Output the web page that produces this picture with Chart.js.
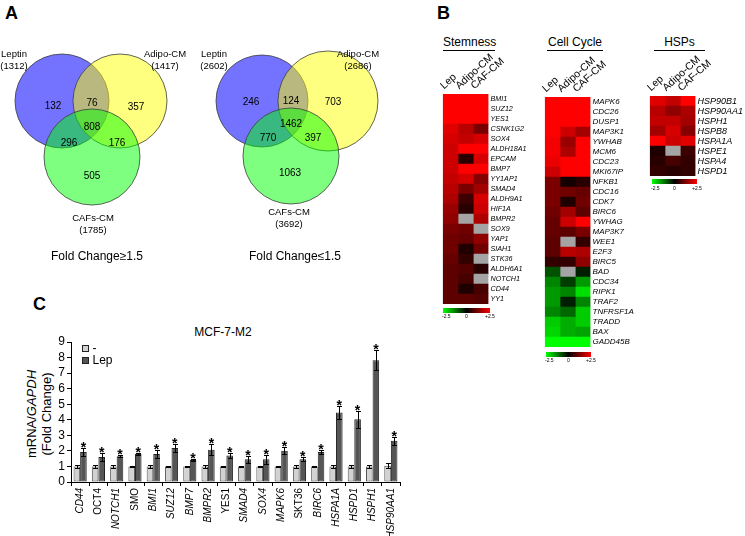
<!DOCTYPE html>
<html>
<head>
<meta charset="utf-8">
<script src="https://cdn.jsdelivr.net/npm/chart.js@4.4.1/dist/chart.umd.min.js"></script>
<style>
  body { margin: 0; background: #fff; font-family: Arial, "Liberation Sans", sans-serif; }
  #page { position: relative; width: 745px; height: 536px; overflow: hidden; background: #fff; }
  .abs { position: absolute; }
  .panel { font-weight: bold; font-size: 18px; }
  .head { font-size: 12px; text-align: center; border-bottom: 1px solid #000; line-height: 13px; padding-bottom: 1px; white-space: nowrap; }
  .cbar { height: 5px; background: linear-gradient(to right, #00ff00, #000 50%, #ff0000); }
  .ctxt { font-size: 5px; line-height: 5px; }
  .cap { font-size: 12px; text-align: center; }
</style>
</head>
<body>
<div id="page">
  <div class="abs panel" style="left:5px;top:3px">A</div>
  <div class="abs panel" style="left:437px;top:3px">B</div>
  <div class="abs panel" style="left:33px;top:294px">C</div>

  <canvas id="vennUp" class="abs" width="190" height="210" style="left:0;top:40px"></canvas>
  <canvas id="vennDown" class="abs" width="195" height="210" style="left:190px;top:40px"></canvas>
  <div class="abs cap" style="left:37px;top:249px;width:120px">Fold Change≥1.5</div>
  <div class="abs cap" style="left:235px;top:249px;width:120px">Fold Change≤1.5</div>

  <div class="abs head" style="left:443px;top:36px;width:52px">Stemness</div>
  <div class="abs head" style="left:547px;top:36px;width:56px">Cell Cycle</div>
  <div class="abs head" style="left:654px;top:36px;width:51px">HSPs</div>

  <canvas id="heatStem" class="abs" width="109" height="268" style="left:440px;top:44px"></canvas>
  <canvas id="heatCycle" class="abs" width="119" height="308" style="left:542px;top:47px"></canvas>
  <canvas id="heatHsp" class="abs" width="98" height="138" style="left:647px;top:46px"></canvas>

  <div class="abs cbar" style="left:443px;top:308px;width:47px"></div>
  <div class="abs ctxt" style="left:442px;top:314px">-2.5</div>
  <div class="abs ctxt" style="left:465px;top:314px">0</div>
  <div class="abs ctxt" style="left:485px;top:314px">+2.5</div>

  <div class="abs cbar" style="left:546px;top:352px;width:45px"></div>
  <div class="abs ctxt" style="left:545px;top:358px">-2.5</div>
  <div class="abs ctxt" style="left:567px;top:358px">0</div>
  <div class="abs ctxt" style="left:586px;top:358px">+2.5</div>

  <div class="abs cbar" style="left:652px;top:179px;width:45px"></div>
  <div class="abs ctxt" style="left:651px;top:186px">-2.5</div>
  <div class="abs ctxt" style="left:673px;top:186px">0</div>
  <div class="abs ctxt" style="left:692px;top:186px">+2.5</div>

  <div class="abs" style="left:173px;top:325px;width:100px;text-align:center;font-size:12px">MCF-7-M2</div>
  <div class="abs" style="left:-10px;top:398px;width:100px;height:32px;transform:rotate(-90deg);text-align:center;font-size:13px;line-height:15px">mRNA/<i>GAPDH</i><br>(Fold Change)</div>
  <canvas id="barC" class="abs" width="410" height="216" style="left:0;top:320px"></canvas>
</div>

<script>
// Venn A
const vennSets = ['Leptin', 'Adipo-CM', 'CAFs-CM'];
const upTotals = [1312, 1417, 1785];
// L only, L+A, A only, all three, L+C, A+C, C only
const upRegions = [132, 76, 357, 808, 296, 176, 505];
const downTotals = [2602, 2686, 3692];
const downRegions = [246, 124, 703, 1462, 770, 397, 1063];

// Heatmaps B
const conditions = ['Lep', 'Adipo-CM', 'CAF-CM'];
const stemGenes = ['BMI1', 'SUZ12', 'YES1', 'CSNK1G2', 'SOX4', 'ALDH18A1', 'EPCAM', 'BMP7', 'YY1AP1', 'SMAD4', 'ALDH9A1', 'HIF1A', 'BMPR2', 'SOX9', 'YAP1', 'SIAH1', 'STK36', 'ALDH6A1', 'NOTCH1', 'CD44', 'YY1'];
const stemLep = [2.5, 2.5, 2.5, 2.2, 2.1, 2.0, 2.0, 2.0, 1.9, 1.8, 1.7, 1.5, 1.4, 1.2, 1.1, 1.1, 1.0, 0.9, 0.9, 0.9, 0.9];
const stemAdipo = [2.5, 2.5, 2.5, 1.8, 1.9, 2.5, 0.4, 2.5, 2.1, 1.2, 0.6, 0.4, null, 1.1, 1.0, 0.3, 0.5, 0.8, 0.7, 0.3, 0.9];
const stemCaf = [2.5, 2.5, 2.5, 1.2, 2.1, 2.5, 2.1, 2.5, 1.3, 1.6, 2.1, 2.0, 1.7, null, 1.4, 1.1, null, 0.4, null, 0.7, 0.8];

const cycleGenes = ['MAPK6', 'CDC26', 'DUSP1', 'MAP3K1', 'YWHAB', 'MCM6', 'CDC23', 'MKI67IP', 'NFKB1', 'CDC16', 'CDK7', 'BIRC6', 'YWHAG', 'MAP3K7', 'WEE1', 'E2F3', 'BIRC5', 'BAD', 'CDC34', 'RIPK1', 'TRAF2', 'TNFRSF1A', 'TRADD', 'BAX', 'GADD45B'];
const cycleLep = [2.5, 2.5, 2.5, 2.5, 2.4, 2.4, 2.3, 2.0, 1.2, 1.2, 1.2, 1.1, 1.0, 1.0, 0.9, 0.9, 0.5, -0.8, -1.3, -1.5, -1.5, -1.3, -2.0, -2.1, -2.5];
const cycleAdipo = [2.5, 2.5, 2.5, 2.0, 1.5, 1.7, 2.5, 2.5, 0.2, 1.1, 0.3, 1.6, 2.0, 0.9, null, 1.8, 0.5, null, -0.6, -1.3, -0.3, -1.0, -1.7, -1.7, -2.5];
const cycleCaf = [2.5, 2.5, 2.5, 1.6, 2.5, 2.5, 2.5, 2.5, 0.4, 1.0, 1.1, 0.9, 2.5, 1.2, 0.5, 1.7, 1.4, -0.3, -1.5, -2.2, -1.3, -2.0, -2.0, -1.6, -2.5];

const hspGenes = ['HSP90B1', 'HSP90AA1', 'HSPH1', 'HSPB8', 'HSPA1A', 'HSPE1', 'HSPA4', 'HSPD1'];
const hspLep = [2.2, 1.8, 1.9, 1.6, 2.5, 0.3, 0.4, 0.5];
const hspAdipo = [1.9, 1.4, 1.9, 2.1, 2.0, null, 0.7, 0.4];
const hspCaf = [2.5, 1.7, 1.6, 1.3, 2.2, 0.6, 0.5, 0.5];

// Bar chart C
const genesC = ['CD44', 'OCT4', 'NOTCH1', 'SMO', 'BMI1', 'SUZ12', 'BMP7', 'BMPR2', 'YES1', 'SMAD4', 'SOX4', 'MAPK6', 'SKT36', 'BIRC6', 'HSPA1A', 'HSPD1', 'HSPH1', 'HSP90AA1'];
const ctrlMean = [1.0, 1.0, 1.0, 1.0, 1.0, 1.0, 1.0, 1.0, 1.0, 1.0, 1.0, 1.0, 1.0, 1.0, 1.0, 1.0, 1.0, 1.05];
const ctrlErr = [0.08, 0.07, 0.08, 0.02, 0.08, 0.03, 0.06, 0.12, 0.03, 0.06, 0.06, 0.03, 0.07, 0.03, 0.08, 0.08, 0.07, 0.15];
const lepMean = [1.93, 1.6, 1.65, 1.8, 1.8, 2.19, 1.41, 2.08, 1.71, 1.46, 1.46, 2.01, 1.46, 1.93, 4.46, 4.03, 7.82, 2.65];
const lepErr = [0.26, 0.26, 0.06, 0.06, 0.26, 0.27, 0.09, 0.34, 0.18, 0.21, 0.28, 0.22, 0.13, 0.11, 0.44, 0.53, 0.64, 0.25];
const lepSig = [true, true, true, true, true, true, true, true, true, true, true, true, true, true, true, true, true, true];

Chart.defaults.font.family = 'Arial, "Liberation Sans", sans-serif';
Chart.defaults.color = '#000';
Chart.defaults.animation = false;

// --- Venn diagrams (bubble chart, axes in canvas pixels) ---
const vennFill = ['rgba(0,0,255,0.55)', 'rgba(255,255,0,0.5)', 'rgba(0,255,0,0.5)'];

const vennText = {
  id: 'vennText',
  afterDatasetsDraw(chart, args, o) {
    const { ctx, scales: { x, y } } = chart;
    ctx.save();
    ctx.fillStyle = '#000';
    ctx.textAlign = 'center';
    ctx.textBaseline = 'middle';
    ctx.font = '10px Arial, "Liberation Sans", sans-serif';
    o.counts.forEach((c, i) => {
      ctx.fillText(String(c), x.getPixelForValue(o.spots[i][0]), y.getPixelForValue(o.spots[i][1]));
    });
    ctx.font = '9.5px Arial, "Liberation Sans", sans-serif';
    o.names.forEach((n, i) => {
      const [px, py] = o.namePos[i];
      ctx.fillText(n, x.getPixelForValue(px), y.getPixelForValue(py));
      ctx.fillText('(' + o.totals[i] + ')', x.getPixelForValue(px), y.getPixelForValue(py + 12));
    });
    ctx.restore();
  }
};

function venn(id, totals, regions, lay) {
  const el = document.getElementById(id);
  new Chart(el, {
    type: 'bubble',
    data: {
      datasets: vennSets.map((name, i) => ({
        label: name,
        data: [{ x: lay.c[i][0], y: lay.c[i][1], r: lay.r[i] }],
        backgroundColor: vennFill[i],
        borderColor: 'rgba(60,60,60,0.8)',
        borderWidth: 1,
        order: 3 - i,
        clip: false
      }))
    },
    options: {
      responsive: false,
      events: [],
      layout: { padding: 0, autoPadding: false },
      plugins: {
        legend: { display: false },
        tooltip: { enabled: false },
        vennText: { counts: regions, spots: lay.spots, names: vennSets, totals: totals, namePos: lay.names }
      },
      scales: {
        x: { type: 'linear', min: 0, max: el.width, display: false },
        y: { type: 'linear', min: 0, max: el.height, reverse: true, display: false }
      }
    },
    plugins: [vennText]
  });
}

venn('vennUp', upTotals, upRegions, {
  c: [[62, 61], [120, 61], [92, 117]],
  r: [47, 47, 48],
  spots: [[53, 66], [92, 63], [136, 67], [92, 87], [69, 103], [117, 103], [92, 136]],
  names: [[14, 14], [165, 14], [93, 178]]
});
venn('vennDown', downTotals, downRegions, {
  c: [[72, 61], [138, 61], [101, 116]],
  r: [46, 50, 48],
  spots: [[61, 62], [101, 61], [143, 62], [101, 84], [78, 98], [123, 98], [100, 133]],
  names: [[24, 14], [168, 14], [99, 172]]
});

// --- Heatmaps (horizontal stacked bars, one cell per condition) ---
function heatColor(v) {
  if (v === null) return '#a4a4a4';
  const t = Math.min(Math.abs(v) / 2.5, 1);
  const c = Math.round(255 * t);
  return v >= 0 ? `rgb(${c},0,0)` : `rgb(0,${c},0)`;
}

// the rotated top labels leave 3.5px on the left, so the cells are 45px wide from there
function heatmap(id, genes, cols, topH, fontSize) {
  const el = document.getElementById(id);
  return new Chart(el, {
    type: 'bar',
    data: {
      labels: genes,
      datasets: cols.map((vals, j) => ({
        label: conditions[j],
        data: genes.map(() => 1),
        backgroundColor: vals.map(heatColor),
        borderWidth: 0,
        barPercentage: 1,
        categoryPercentage: 1
      }))
    },
    options: {
      indexAxis: 'y',
      responsive: false,
      events: [],
      layout: { padding: { top: 0, right: 0, bottom: 8, left: 0 } },
      plugins: { legend: { display: false }, tooltip: { enabled: false } },
      scales: {
        x: {
          type: 'linear', position: 'top', stacked: true, min: 0, max: 3,
          grid: { display: false, drawTicks: false }, border: { display: false },
          afterBuildTicks: s => { s.ticks = [0.5, 1.5, 2.5].map(v => ({ value: v })); },
          ticks: { autoSkip: false, minRotation: 42, maxRotation: 42, padding: 2, font: { size: 10.5 }, callback: (v, i) => conditions[i] },
          afterFit: s => { s.height = topH; }
        },
        y: {
          position: 'right', stacked: true,
          grid: { display: false, drawTicks: false }, border: { display: false },
          ticks: { autoSkip: false, padding: 2, font: { size: fontSize, style: 'italic' } },
          afterFit: s => { s.width = el.width - 48.5; }
        }
      }
    }
  });
}

heatmap('heatStem', stemGenes, [stemLep, stemAdipo, stemCaf], 50, 7.2);
heatmap('heatCycle', cycleGenes, [cycleLep, cycleAdipo, cycleCaf], 50, 8);
heatmap('heatHsp', hspGenes, [hspLep, hspAdipo, hspCaf], 50, 9);

// --- Bar chart with error bars ---
const plainTicks = ['OCT4', 'SMO', 'YES1', 'SKT36'];

const errorBars = {
  id: 'errorBars',
  afterDatasetsDraw(chart) {
    const ctx = chart.ctx, y = chart.scales.y;
    ctx.save();
    ctx.strokeStyle = '#000';
    ctx.fillStyle = '#000';
    ctx.lineWidth = 1;
    ctx.textAlign = 'center';
    ctx.font = 'bold 14px Arial, "Liberation Sans", sans-serif';
    chart.data.datasets.forEach((ds, di) => {
      chart.getDatasetMeta(di).data.forEach((bar, i) => {
        const v = ds.data[i], e = ds.errors[i];
        const top = Math.round(y.getPixelForValue(v + e)) + 0.5;
        const bot = Math.round(y.getPixelForValue(v - e)) + 0.5;
        const x = Math.round(bar.x) + 0.5;
        ctx.beginPath();
        ctx.moveTo(x, top); ctx.lineTo(x, bot);
        ctx.moveTo(x - 2.5, top); ctx.lineTo(x + 2.5, top);
        ctx.moveTo(x - 2.5, bot); ctx.lineTo(x + 2.5, bot);
        ctx.stroke();
        if (ds.stars && ds.stars[i]) ctx.fillText('*', bar.x, top + 3);
      });
    });
    ctx.restore();
  }
};

const boxLegend = {
  id: 'boxLegend',
  afterDraw(chart) {
    const { ctx, chartArea: a } = chart;
    ctx.save();
    ctx.font = '12px Arial, "Liberation Sans", sans-serif';
    ctx.textBaseline = 'middle';
    chart.data.datasets.forEach((ds, i) => {
      const bx = a.left + 11.5, by = a.top + 3.5 + i * 12;
      ctx.fillStyle = ds.backgroundColor;
      ctx.fillRect(bx, by, 6, 6);
      ctx.strokeStyle = '#222';
      ctx.strokeRect(bx, by, 6, 6);
      ctx.fillStyle = '#000';
      ctx.fillText(ds.label, bx + 10, by + 3.5);
    });
    ctx.restore();
  }
};

new Chart(document.getElementById('barC'), {
  type: 'bar',
  data: {
    labels: genesC,
    datasets: [
      { label: '-', data: ctrlMean, errors: ctrlErr, backgroundColor: '#d2d2d2', borderColor: '#555', borderWidth: 1, borderSkipped: false },
      { label: 'Lep', data: lepMean, errors: lepErr, stars: lepSig, backgroundColor: '#555555', borderColor: '#222', borderWidth: 1, borderSkipped: false }
    ]
  },
  options: {
    responsive: false,
    events: [],
    layout: { padding: { top: 22, right: 10, bottom: 0, left: 0 } },
    datasets: { bar: { categoryPercentage: 0.72, barPercentage: 1 } },
    plugins: { legend: { display: false }, tooltip: { enabled: false } },
    scales: {
      x: {
        grid: { drawOnChartArea: false, tickLength: 4, color: '#000', offset: true },
        border: { color: '#000' },
        ticks: {
          autoSkip: false, minRotation: 90, maxRotation: 90, padding: 2,
          font: c => ({ size: 10, style: plainTicks.includes(genesC[c.index]) ? 'normal' : 'italic' })
        },
        afterFit: s => { s.height = 54; }
      },
      y: {
        min: 0, max: 9,
        grid: { drawOnChartArea: false, tickLength: 4, color: '#000' },
        border: { color: '#000' },
        ticks: { stepSize: 1, autoSkip: false, padding: 2, font: { size: 12 } },
        afterFit: s => { s.width = 71; }
      }
    }
  },
  plugins: [errorBars, boxLegend]
});
</script>
</body>
</html>
